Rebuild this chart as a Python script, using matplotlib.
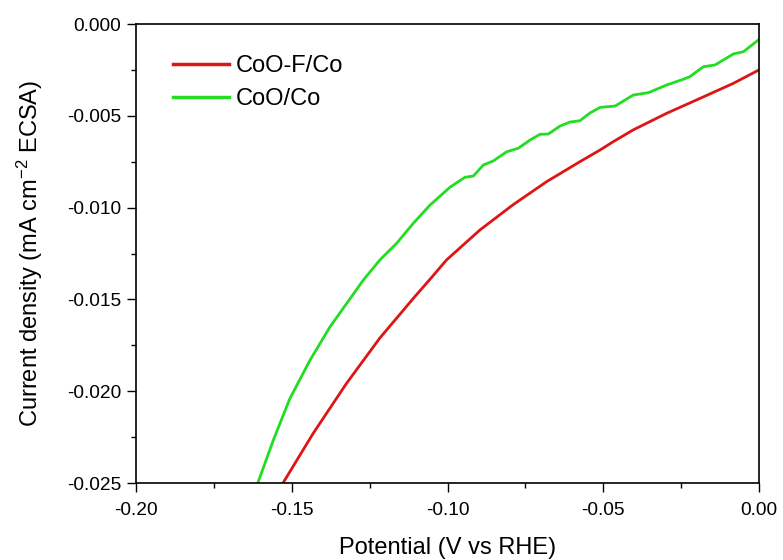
import matplotlib
matplotlib.use("Agg")
import matplotlib.pyplot as plt
from matplotlib.ticker import MultipleLocator, FuncFormatter

# Data
v_cof = [-0.1528, -0.1431, -0.1324, -0.1217, -0.1110, -0.1056, -0.1003, -0.0896,
         -0.0790, -0.0682, -0.0575, -0.0510, -0.0468, -0.0404, -0.0296, -0.0189,
         -0.0082, 0.0]
j_cof = [-0.0250, -0.02229, -0.01957, -0.01710, -0.01495, -0.01390, -0.01285, -0.01122,
         -0.00985, -0.00859, -0.00750, -0.00686, -0.00641, -0.00577, -0.00486, -0.00405,
         -0.00323, -0.00250]

v_co = [-0.1609, -0.1559, -0.1506, -0.1441, -0.1377, -0.1270, -0.1217, -0.1163, -0.1110,
        -0.1056, -0.0992, -0.0944, -0.0917, -0.0885, -0.0853, -0.0810, -0.0773, -0.0735,
        -0.0703, -0.0676, -0.0639, -0.0607, -0.0575, -0.0543, -0.0510, -0.0462, -0.0404,
        -0.0355, -0.0296, -0.0243, -0.0222, -0.0179, -0.0141, -0.0082, -0.0050, -0.0002]
j_co = [-0.0250, -0.02266, -0.02040, -0.01830, -0.01649, -0.01394, -0.01285, -0.01194, -0.01086,
        -0.00986, -0.00889, -0.00835, -0.00828, -0.00768, -0.00746, -0.00696, -0.00677, -0.00632,
        -0.00601, -0.00599, -0.00556, -0.00534, -0.00527, -0.00485, -0.00454, -0.00447, -0.00387,
        -0.00374, -0.00332, -0.00301, -0.00287, -0.00233, -0.00223, -0.00163, -0.00151, -0.00087]

labels = ["CoO-F/Co", "CoO/Co"]

plt.rcParams['font.family'] = ['Liberation Sans', 'DejaVu Sans']
plt.rcParams['mathtext.fontset'] = 'custom'
plt.rcParams['mathtext.rm'] = 'Liberation Sans'
plt.rcParams['mathtext.it'] = 'Liberation Sans'
plt.rcParams['axes.unicode_minus'] = False

fig = plt.figure(figsize=(7.83, 5.6), dpi=100)
ax = fig.add_axes([136/783, 1-483/560, (759-136)/783, (483-24)/560])

ax.plot(v_cof, j_cof, color='#DD1515', lw=2.0, label=labels[0])
ax.plot(v_co, j_co, color='#22DD22', lw=2.0, label=labels[1])

ax.set_xlim(-0.20, 0.0)
ax.set_ylim(-0.025, 0.0)
ax.xaxis.set_major_locator(MultipleLocator(0.05))
ax.xaxis.set_minor_locator(MultipleLocator(0.025))
ax.yaxis.set_major_locator(MultipleLocator(0.005))
ax.yaxis.set_minor_locator(MultipleLocator(0.0025))


def fmt(n):
    def f(v, pos):
        if abs(v) < 1e-12:
            v = 0.0
        return f"{v:.{n}f}"
    return f


ax.xaxis.set_major_formatter(FuncFormatter(fmt(2)))
ax.yaxis.set_major_formatter(FuncFormatter(fmt(3)))

ax.tick_params(which='major', direction='out', length=6.5, width=1.0, labelsize=13.8)
ax.tick_params(axis='x', which='major', pad=7)
ax.tick_params(axis='y', which='major', pad=4)
ax.tick_params(which='minor', direction='out', length=3.5, width=1.0)
ax.tick_params(top=False, right=False, which='both')
for s in ax.spines.values():
    s.set_linewidth(1.2)

ax.set_xlabel('Potential (V vs RHE)', fontsize=17, labelpad=13)
ax.set_ylabel('Current density (mA cm$^{-2}$ ECSA)', fontsize=17, labelpad=16)

leg = ax.legend(loc='upper left', bbox_to_anchor=(0.059, 0.932), frameon=False,
                fontsize=17, handlelength=2.4, handletextpad=0.25,
                labelspacing=0.45, borderpad=0, borderaxespad=0)
for line in leg.get_lines():
    line.set_linewidth(2.5)

fig.savefig('out.png', dpi=100)
